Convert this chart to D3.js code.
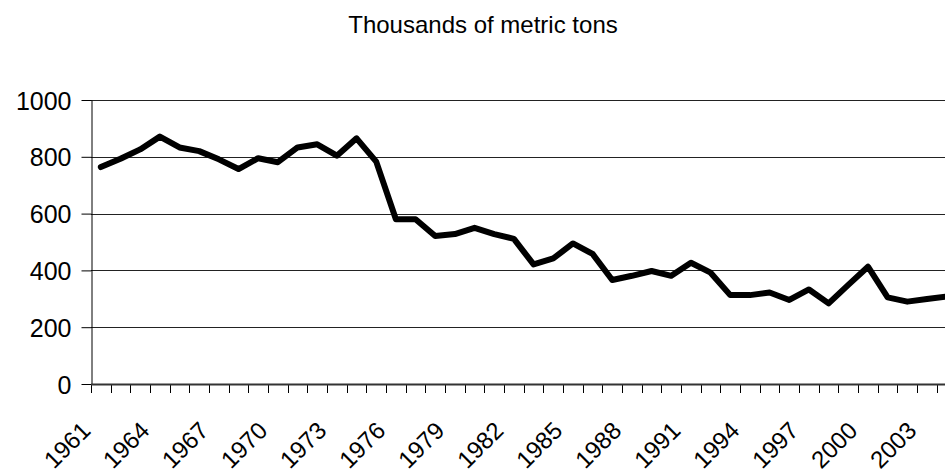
<!DOCTYPE html>
<html>
<head>
<meta charset="utf-8">
<script src="https://cdn.jsdelivr.net/npm/d3@7"></script>
<style>
  body { margin: 0; background: #fff; }
  svg { display: block; font-family: "Liberation Sans", Arial, sans-serif; }
</style>
</head>
<body>
<svg></svg>
<script>
/*
 * Data
 */
const years = [
  1961, 1962, 1963, 1964, 1965, 1966, 1967, 1968, 1969, 1970,
  1971, 1972, 1973, 1974, 1975, 1976, 1977, 1978, 1979, 1980,
  1981, 1982, 1983, 1984, 1985, 1986, 1987, 1988, 1989, 1990,
  1991, 1992, 1993, 1994, 1995, 1996, 1997, 1998, 1999, 2000,
  2001, 2002, 2003, 2004
];
const tons = [
  764, 793, 826, 871, 833, 820, 791, 757, 795, 781,
  833, 844, 804, 865, 783, 580, 580, 521, 528, 550,
  528, 511, 421, 442, 495, 458, 366, 381, 398, 381,
  427, 392, 313, 313, 322, 296, 333, 284, 349, 413,
  305, 290, 299, 308
];
const labelYears = [1961, 1964, 1967, 1970, 1973, 1976, 1979, 1982, 1985, 1988, 1991, 1994, 1997, 2000, 2003];
const yTicks = [0, 200, 400, 600, 800, 1000];
const TITLE = "Thousands of metric tons";

/*
 * Viz constants
 */
const SVG_WIDTH = 945;
const SVG_HEIGHT = 474;
const PLOT_LEFT = 91;
const PLOT_TOP = 100;
const PLOT_BOTTOM = 384;
const YEAR_STEP = 19.67;

const svg = d3.select("svg")
  .attr("width", SVG_WIDTH)
  .attr("height", SVG_HEIGHT);

const x = d3.scaleBand()
  .domain(years)
  .range([PLOT_LEFT, PLOT_LEFT + years.length * YEAR_STEP])
  .paddingInner(0)
  .paddingOuter(0);

const y = d3.scaleLinear()
  .domain([0, 1000])
  .range([PLOT_BOTTOM, PLOT_TOP]);

const xMid = d => x(d) + x.bandwidth() / 2;

// Title
svg.append("text")
  .attr("x", 483)
  .attr("y", 33)
  .attr("text-anchor", "middle")
  .attr("font-size", "24px")
  .attr("fill", "#000")
  .text(TITLE);

// Gridlines (every y tick except 0)
svg.append("g")
  .selectAll("line")
  .data(yTicks.filter(t => t > 0))
  .join("line")
  .attr("x1", PLOT_LEFT)
  .attr("x2", SVG_WIDTH)
  .attr("y1", d => Math.round(y(d)) + 0.5)
  .attr("y2", d => Math.round(y(d)) + 0.5)
  .attr("stroke", "#222")
  .attr("stroke-width", 1);

// Y axis
const yAxis = svg.append("g")
  .attr("transform", `translate(${PLOT_LEFT + 0.5},0)`)
  .call(d3.axisLeft(y)
    .tickValues(yTicks)
    .tickFormat(d3.format("d"))
    .tickSize(10)
    .tickPadding(10)
    .tickSizeOuter(0));
yAxis.select(".domain").attr("stroke", "#000");
yAxis.selectAll(".tick line").attr("stroke", "#000");
yAxis.selectAll(".tick text")
  .attr("font-size", "25px")
  .attr("font-family", "'Liberation Sans', Arial, sans-serif")
  .attr("fill", "#000")
  .attr("dy", "0.36em");

// X axis: tick marks at category boundaries
const boundaries = years.map(d => x(d));
svg.append("g")
  .selectAll("line")
  .data(boundaries)
  .join("line")
  .attr("x1", d => Math.round(d) + 0.5)
  .attr("x2", d => Math.round(d) + 0.5)
  .attr("y1", PLOT_BOTTOM)
  .attr("y2", PLOT_BOTTOM + 9)
  .attr("stroke", "#000")
  .attr("stroke-width", 1);

svg.append("line")
  .attr("x1", PLOT_LEFT)
  .attr("x2", SVG_WIDTH)
  .attr("y1", PLOT_BOTTOM + 0.5)
  .attr("y2", PLOT_BOTTOM + 0.5)
  .attr("stroke", "#333")
  .attr("stroke-width", 2);

// X labels, rotated
svg.append("g")
  .selectAll("text")
  .data(labelYears)
  .join("text")
  .attr("transform", d => `translate(${xMid(d) - 9},${PLOT_BOTTOM + 48}) rotate(-45)`)
  .attr("text-anchor", "end")
  .attr("font-size", "24px")
  .attr("fill", "#000")
  .text(d => d);

// Data line
const line = d3.line()
  .x((d, i) => xMid(years[i]))
  .y(d => y(d));

svg.append("path")
  .datum(tons)
  .attr("d", line)
  .attr("fill", "none")
  .attr("stroke", "#000")
  .attr("stroke-width", 6)
  .attr("stroke-linejoin", "round")
  .attr("stroke-linecap", "round");
</script>
</body>
</html>
